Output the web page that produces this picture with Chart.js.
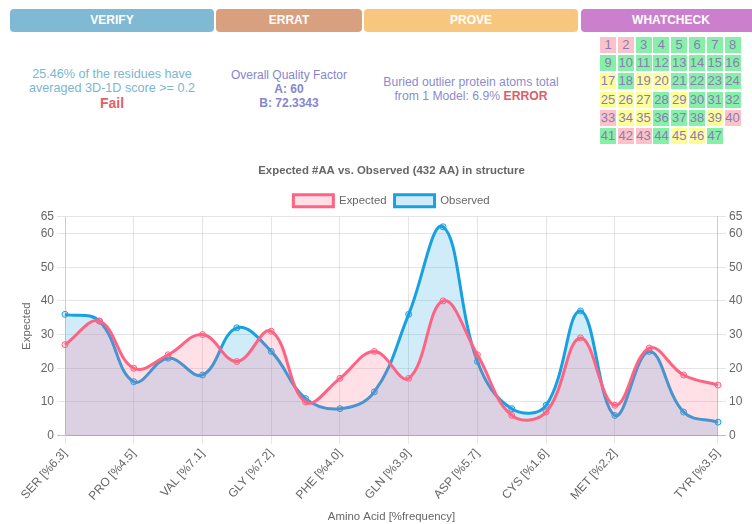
<!DOCTYPE html>
<html><head><meta charset="utf-8">
<script src="https://cdn.jsdelivr.net/npm/chart.js@4"></script>
<style>
html,body{margin:0;padding:0;width:752px;height:524px;overflow:hidden;background:#fff;font-family:"Liberation Sans",Arial,sans-serif;}
.hdr{position:absolute;top:9px;height:23px;border-radius:4px;color:#fff;font-weight:bold;font-size:12px;line-height:23px;text-align:center;}
.txt{position:absolute;font-size:12px;line-height:14px;text-align:center;}
.cell{position:absolute;width:16px;height:16px;font-size:13px;line-height:16px;text-align:center;color:#8a7cb4;}
#chartBox{position:absolute;left:16px;top:152px;width:751px;height:376px;}
</style></head><body>
<div class="hdr" style="left:10px;width:204px;background:#80b9d3;">VERIFY</div>
<div class="hdr" style="left:216px;width:146px;background:#d9a07f;">ERRAT</div>
<div class="hdr" style="left:364px;width:214px;background:#f8c77f;">PROVE</div>
<div class="hdr" style="left:581px;width:180px;background:#cc7fcc;">WHATCHECK</div>

<div class="txt" style="left:10px;width:204px;top:67px;color:#7ab6d2;font-size:12.6px;">25.46% of the residues have<br>averaged 3D-1D score &gt;= 0.2<br><span style="color:#e0606a;font-weight:bold;font-size:14px;line-height:16px;">Fail</span></div>
<div class="txt" style="left:216px;width:146px;top:68px;color:#8585d0;">Overall Quality Factor<br><b>A: 60</b><br><b>B: 72.3343</b></div>
<div class="txt" style="left:364px;width:214px;top:75px;color:#8c8cd0;font-size:12.2px;">Buried outlier protein atoms total<br>from 1 Model: 6.9% <b style="color:#d9606a;">ERROR</b></div>

<div id="chartBox"><canvas id="c"></canvas></div>
<script>
// WHATCHECK check statuses (p = error, y = warning, g = ok), checks 1..47
const whatcheckStatus = [
  'p','p','g','g','g','g','g','g',
  'g','g','g','g','g','g','g','g',
  'y','g','y','y','g','g','g','g',
  'y','y','y','g','y','g','g','g',
  'p','y','y','g','g','g','y','p',
  'g','p','p','g','y','y','g'
];
const statusColors = {p:'#fbc3c9', g:'#86f0a9', y:'#fefe98'};

// Chart data
const categories = [
  'SER [%6.3]','ALA [%7.9]','PRO [%4.5]','THR [%5.6]','VAL [%7.1]',
  'ARG [%5.1]','GLY [%7.2]','HIS [%2.3]','PHE [%4.0]','LYS [%5.8]',
  'GLN [%3.9]','LEU [%9.3]','ASP [%5.7]','TRP [%1.4]','CYS [%1.6]',
  'GLU [%6.7]','MET [%2.2]','ILE [%6.0]','ASN [%4.2]','TYR [%3.5]'
];
const expectedValues = [27,34,20,24,30,22,31,10,17,25,17,40,24,6,7,29,9,26,18,15];
const observedValues = [36,34,16,23,18,32,25,11,8,13,36,62,22,8,9,37,6,25,7,4];
const yTickValues = [0,10,20,30,40,50,60,65];
const shownLabelIndex = [0,2,4,6,8,10,12,14,16,19];

// build WHATCHECK grid
whatcheckStatus.forEach((s, i) => {
  const d = document.createElement('div');
  d.className = 'cell';
  d.style.left = (600 + (i % 8) * 17.8) + 'px';
  d.style.top = (37 + Math.floor(i / 8) * 18.2) + 'px';
  d.style.background = statusColors[s];
  d.textContent = String(i + 1);
  document.body.appendChild(d);
});

const RED = 'rgb(255,99,132)', RED_A = 'rgba(255,99,132,0.2)';
const BLUE = 'rgb(25,160,225)', BLUE_A = 'rgba(25,160,225,0.2)';

Chart.defaults.font.family = '"Liberation Sans", Arial, sans-serif';
Chart.defaults.font.size = 12;
Chart.defaults.color = '#666';

const setTicks = s => { s.ticks = yTickValues.map(v => ({value: v})); };
const yGrid = c => (c.tick && c.tick.value === 0) ? 'rgba(0,0,0,0.25)' : 'rgba(0,0,0,0.1)';

new Chart(document.getElementById('c'), {
  type: 'line',
  data: {
    labels: categories,
    datasets: [
      {label: 'Expected', data: expectedValues, yAxisID: 'yExp', borderColor: RED, backgroundColor: RED_A,
       borderWidth: 3, fill: 'origin', tension: 0.4, pointRadius: 3, pointBorderWidth: 1,
       pointBackgroundColor: RED_A, pointBorderColor: RED},
      {label: 'Observed', data: observedValues, yAxisID: 'yObs', borderColor: BLUE, backgroundColor: BLUE_A,
       borderWidth: 3, fill: 'origin', tension: 0.4, pointRadius: 3, pointBorderWidth: 1,
       pointBackgroundColor: BLUE_A, pointBorderColor: BLUE}
    ]
  },
  options: {
    responsive: true, maintainAspectRatio: false, animation: false,
    plugins: {
      title: {display: true, text: 'Expected #AA vs. Observed (432 AA) in structure',
              font: {size: 11.4, weight: 'bold'}, color: '#666', padding: {top: 12, bottom: 9}},
      legend: {labels: {boxWidth: 40, boxHeight: 12, padding: 8, font: {size: 11.4}}},
      tooltip: {enabled: false}
    },
    scales: {
      x: {
        title: {display: true, text: 'Amino Acid [%frequency]', font: {size: 11.4}},
        ticks: {autoSkip: false, minRotation: 48, maxRotation: 48,
          callback: function(v, i) { return shownLabelIndex.includes(i) ? this.getLabelForValue(v) : ''; }},
        grid: {color: c => shownLabelIndex.includes(c.index) ? 'rgba(0,0,0,0.1)' : 'rgba(0,0,0,0)'}
      },
      yExp: {
        position: 'left', min: 0, max: 65,
        title: {display: true, text: 'Expected', font: {size: 11.4}},
        afterBuildTicks: setTicks,
        grid: {color: yGrid}
      },
      yObs: {
        position: 'right', min: 0, max: 65,
        title: {display: true, text: 'Observed', font: {size: 11.4}},
        afterBuildTicks: setTicks,
        grid: {drawOnChartArea: false, color: yGrid}
      }
    }
  }
});
</script>
</body></html>
